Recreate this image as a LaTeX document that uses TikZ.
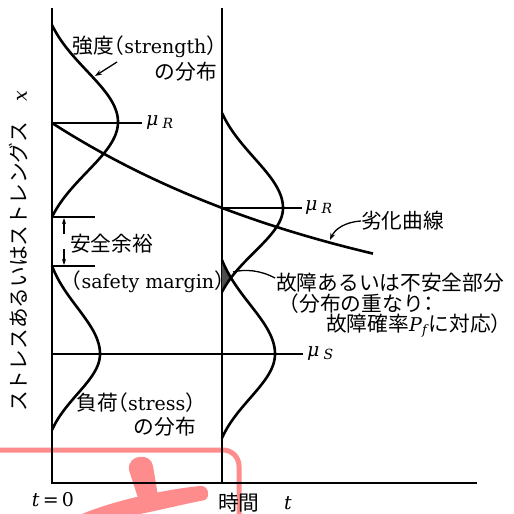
\documentclass[tikz,border=0pt]{standalone}
\usepackage{fontspec}
\setmainfont{DejaVu Serif}
\newfontfamily\jp[Scale=1.09,RawFeature=+halt]{Noto Sans CJK JP}
\usetikzlibrary{arrows.meta}
\definecolor{stamp}{RGB}{255,140,140}
\newcommand{\distr}[7]{% x0, c, ytop, ybot, A, htop, hbot
  \draw[curve] plot[smooth, domain=#3:#2, samples=40, variable=\t]
    ({#1+#5*(exp(-0.5*(1.9*(\t-#2)/#6)*(1.9*(\t-#2)/#6))-0.1645)/0.8355}, \t)
    -- plot[smooth, domain=#2:#4, samples=40, variable=\t]
    ({#1+#5*(exp(-0.5*(1.9*(\t-#2)/#7)*(1.9*(\t-#2)/#7))-0.1645)/0.8355}, \t);}
\newcommand{\mulabel}[1]{\textit{μ}\hspace{4pt}\raisebox{-3pt}{\fontsize{14}{14}\selectfont\textit{#1}}}
\tikzset{
  axisl/.style={line width=2.2pt},
  curve/.style={line width=2.6pt},
  mline/.style={line width=1.8pt},
  thinl/.style={line width=1.3pt},
  lbl/.style={inner sep=0pt, font=\fontsize{19}{22}\selectfont},
  tip/.style={-{Stealth[length=7pt,width=5pt]}}
}
\begin{document}
\begin{tikzpicture}[x=1pt,y=-1pt]
\useasboundingbox (0,0) rectangle (514,514);
% stamp (background)
\draw[stamp, line width=5pt, rounded corners=16pt] (0,450) -- (239,450) -- (239,514);
\fill[stamp] (129,470) .. controls (127,454) and (151,452) .. (153,466) -- (158,496) -- (138,498) -- cycle;
\fill[stamp] (82,514) .. controls (110,502) and (160,490) .. (200,486)
  .. controls (208,485) and (211,496) .. (205,500) .. controls (180,505) and (160,510) .. (140,514) -- cycle;
% axes
\coordinate (o) at (52,483);
\coordinate (ytop) at (52,8);
\coordinate (xend) at (477,483);
\coordinate (t1b) at (222,483);
\coordinate (t1t) at (222,8);
\draw[axisl] (ytop) -- (o) -- (xend);
\draw[axisl] (t1t) -- (t1b);
% overlap shading
\fill[black!70] plot[smooth, domain=260:277, samples=12, variable=\t]
    ({222+53*(exp(-0.5*(1.9*(\t-354)/94)*(1.9*(\t-354)/94))-0.1645)/0.8355}, \t)
  -- plot[smooth, domain=277:292, samples=12, variable=\t]
    ({222+61*(exp(-0.5*(1.9*(\t-208)/84)*(1.9*(\t-208)/84))-0.1645)/0.8355}, \t) -- cycle;
% distributions
\distr{52}{122}{25}{217}{66}{97}{95}
\distr{52}{354}{266}{430}{48}{88}{76}
\distr{222}{208}{113}{292}{61}{95}{84}
\distr{222}{354}{260}{438}{53}{94}{84}
% degradation curve
\draw[curve] plot[smooth, domain=52:373, samples=60, variable=\s] (\s, {123+207*(1-exp(-(\s-52)/322))});
% mean lines
\coordinate (mr1a) at (52,123); \coordinate (mr1b) at (142,123);
\coordinate (mr2a) at (222,208); \coordinate (mr2b) at (302,208);
\coordinate (msa) at (52,354); \coordinate (msb) at (303,354);
\draw[mline] (mr1a) -- (mr1b);
\draw[mline] (mr2a) -- (mr2b);
\draw[mline] (msa) -- (msb);
% safety margin
\coordinate (sma) at (52,217); \coordinate (smb) at (95,217);
\coordinate (smc) at (52,266); \coordinate (smd) at (95,266);
\draw[mline] (sma) -- (smb);
\draw[mline] (smc) -- (smd);
\coordinate (ar1s) at (64,234); \coordinate (ar1e) at (64,218);
\coordinate (ar2s) at (64,249); \coordinate (ar2e) at (64,265);
\draw[thinl, -{Stealth[length=6pt,width=4pt]}] (ar1s) -- (ar1e);
\draw[thinl, -{Stealth[length=6pt,width=4pt]}] (ar2s) -- (ar2e);
% labels
\node[lbl, anchor=east] (str1) at (217,47) {{\jp 強度（}strength{\jp ）}};
\node[lbl, anchor=east] (str2) at (217,72) {\jp の分布};
\node[lbl, anchor=west] (mur1) at (146,123) {\mulabel{R}};
\node[lbl, anchor=west] (mur2) at (305,208) {\mulabel{R}};
\node[lbl, anchor=west] (mus) at (307,354) {\mulabel{S}};
\node[lbl, anchor=west] (sm1) at (70,244) {\jp 安全余裕};
\node[lbl, anchor=west] (sm2) at (71,282) {{\jp （}safety margin{\jp ）}};
\node[lbl, anchor=east] (ld1) at (196,403) {{\jp 負荷（}stress{\jp ）}};
\node[lbl, anchor=east] (ld2) at (196,427) {\jp の分布};
\node[lbl, anchor=west] (deg) at (361,221) {\jp 劣化曲線};
\node[lbl, anchor=west] (f1) at (276,283) {\jp 故障あるいは不安全部分};
\node[lbl, anchor=west] (f2) at (289,304) {\jp （分布の重なり：};
\node[lbl, anchor=west] (f3) at (326,325) {{\jp 故障確率}\textit{P}\raisebox{-3pt}{\fontsize{13}{13}\selectfont\textit{f}}{\jp に対応）}};
\node[lbl] (t0) at (53,500) {\textit{t}\,=\,0};
\node[lbl, anchor=west] (tm) at (218,503) {\jp 時間};
\node[lbl] (tt) at (288,503) {\textit{t}};
\node[lbl, rotate=90, anchor=west] (ylab) at (19,412) {{\jp ストレスあるいはストレングス}\hspace{20pt}\textit{x}};
% leader arrows
\coordinate (sa) at (117,62); \coordinate (se) at (95,76);
\draw[thinl, tip] (sa) -- (se);
\coordinate (da) at (361,221); \coordinate (de) at (330,240);
\draw[thinl, tip] (da) .. controls (345,222) and (335,229) .. (de);
\coordinate (fa) at (275,278); \coordinate (fe) at (233,272);
\draw[thinl] (fa) .. controls (260,270) and (245,269) .. (fe);
\end{tikzpicture}
\end{document}
